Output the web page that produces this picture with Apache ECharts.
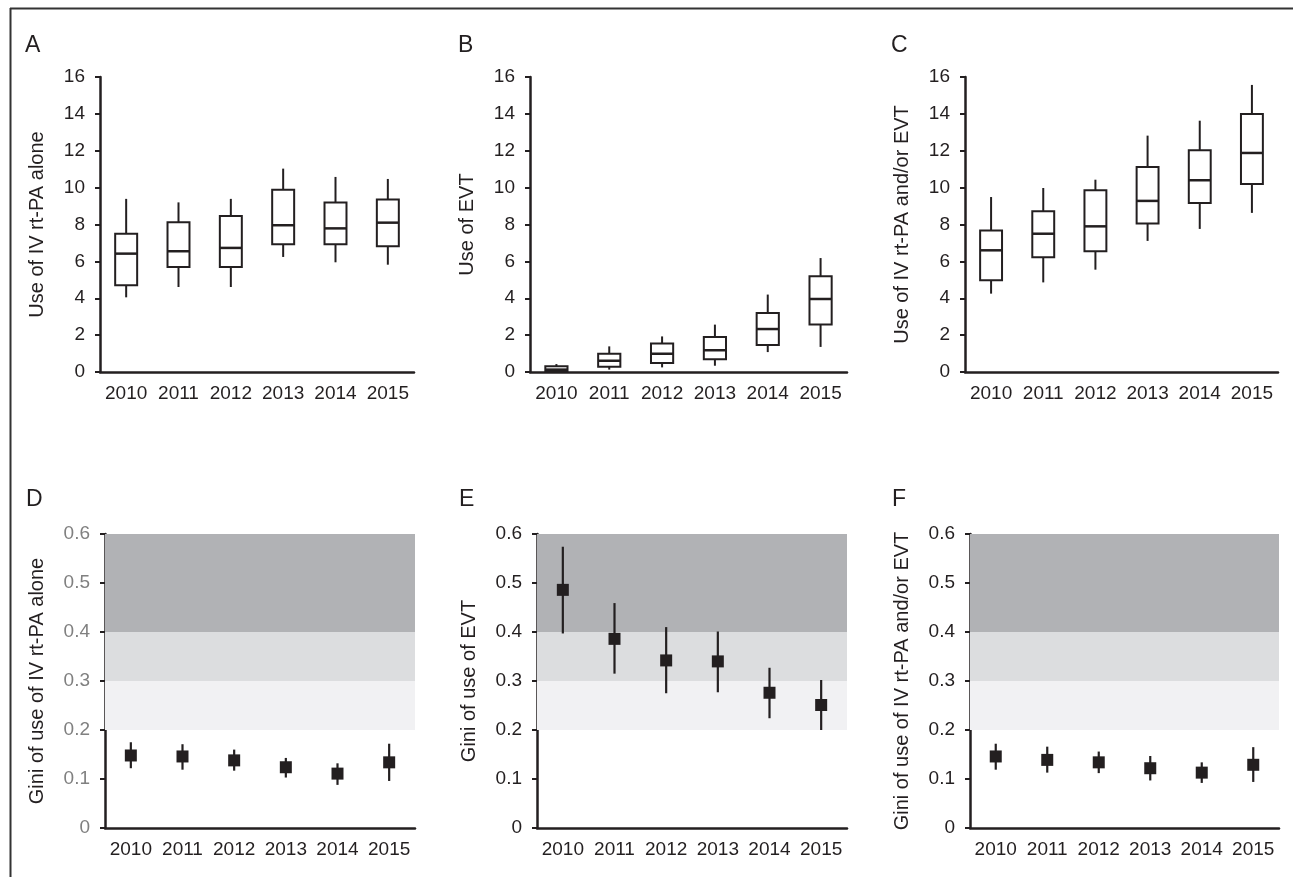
<!DOCTYPE html>
<html>
<head>
<meta charset="utf-8">
<script src="https://cdn.jsdelivr.net/npm/echarts@6/dist/echarts.min.js"></script>
<style>
html, body { margin: 0; padding: 0; background: #fff; }
#main { width: 1293px; height: 877px; }
</style>
</head>
<body>
<div id="main"></div>
<script>
var years = ["2010", "2011", "2012", "2013", "2014", "2015"];

// box plots per year: [low, q1, median, q3, high]
var useIvAlone = [
  [4.05, 4.70, 6.42, 7.50, 9.39],
  [4.61, 5.70, 6.55, 8.12, 9.20],
  [4.61, 5.70, 6.73, 8.46, 9.39],
  [6.24, 6.93, 7.96, 9.89, 11.03],
  [5.95, 6.93, 7.79, 9.19, 10.58],
  [5.82, 6.82, 8.10, 9.35, 10.47]
];
var useEvt = [
  [0.00, 0.05, 0.13, 0.31, 0.43],
  [0.13, 0.29, 0.61, 0.99, 1.39],
  [0.25, 0.49, 0.99, 1.54, 1.93],
  [0.34, 0.69, 1.18, 1.90, 2.57],
  [1.08, 1.46, 2.33, 3.20, 4.20],
  [1.36, 2.57, 3.96, 5.19, 6.18]
];
var useIvOrEvt = [
  [4.25, 4.97, 6.60, 7.67, 9.49],
  [4.86, 6.22, 7.50, 8.72, 9.98],
  [5.55, 6.55, 7.90, 9.86, 10.43],
  [7.11, 8.05, 9.28, 11.12, 12.82],
  [7.76, 9.17, 10.40, 12.03, 13.63],
  [8.63, 10.20, 11.88, 14.00, 15.57]
];

// Gini per year: [low, estimate, high]
var giniIvAlone = [
  [0.122, 0.148, 0.175],
  [0.119, 0.146, 0.171],
  [0.117, 0.138, 0.160],
  [0.103, 0.124, 0.143],
  [0.088, 0.111, 0.132],
  [0.096, 0.134, 0.172]
];
var giniEvt = [
  [0.397, 0.486, 0.574],
  [0.315, 0.386, 0.459],
  [0.275, 0.342, 0.410],
  [0.277, 0.340, 0.401],
  [0.224, 0.276, 0.327],
  [0.200, 0.251, 0.302]
];
var giniIvOrEvt = [
  [0.119, 0.146, 0.172],
  [0.113, 0.139, 0.166],
  [0.112, 0.134, 0.156],
  [0.097, 0.122, 0.147],
  [0.092, 0.113, 0.134],
  [0.094, 0.129, 0.165]
];

// inequality bands on the Gini axis: [from, to]
var giniBands = [[0.2, 0.3], [0.3, 0.4], [0.4, 0.6]];
var bandColors = ["#f1f1f3", "#dcdddf", "#b1b2b5"];

var FONT = "Liberation Sans, Arial, Helvetica, sans-serif";
var INK = "#231f20";

var grids = [
  { left: 100, top: 77, width: 314, height: 295 },
  { left: 530, top: 77, width: 317, height: 295 },
  { left: 965, top: 77, width: 313, height: 295 },
  { left: 105, top: 534, width: 310, height: 294 },
  { left: 537, top: 534, width: 310, height: 294 },
  { left: 970, top: 534, width: 309, height: 294 }
];
var yNames = [
  "Use of IV rt-PA alone",
  "Use of EVT",
  "Use of IV rt-PA and/or EVT",
  "Gini of use of IV rt-PA alone",
  "Gini of use of EVT",
  "Gini of use of IV rt-PA and/or EVT"
];
var letters = [
  { t: "A", x: 25, y: 34 },
  { t: "B", x: 458, y: 34 },
  { t: "C", x: 891, y: 34 },
  { t: "D", x: 26, y: 488 },
  { t: "E", x: 459, y: 488 },
  { t: "F", x: 892, y: 488 }
];

function giniLabel(v) { return v === 0 ? "0" : v.toFixed(1); }
function useLabel(v) { return String(v); }

var xAxes = [], yAxes = [], series = [];
for (let i = 0; i < 6; i++) {
  let gini = i >= 3;
  xAxes.push({
    gridIndex: i,
    type: "category",
    data: years,
    axisLine: { lineStyle: { color: INK, width: 2.5 } },
    axisTick: { show: false },
    axisLabel: { interval: 0, fontSize: 19, color: INK, margin: 12, fontFamily: FONT }
  });
  yAxes.push({
    gridIndex: i,
    type: "value",
    min: 0,
    max: gini ? 0.6 : 16,
    interval: gini ? 0.1 : 2,
    name: yNames[i],
    nameLocation: "middle",
    nameGap: gini ? 58 : 53,
    nameTextStyle: { fontSize: 20, color: INK, fontFamily: FONT },
    axisLine: { show: true, lineStyle: { color: INK, width: 2.5 } },
    axisTick: { show: true, length: 5, lineStyle: { color: INK, width: 2 } },
    axisLabel: {
      fontSize: 19,
      margin: 15,
      fontFamily: FONT,
      color: i === 3 ? "#808080" : INK,
      formatter: gini ? giniLabel : useLabel
    },
    splitLine: { show: false }
  });
}

function boxData(arr) {
  var out = [];
  for (let i = 0; i < arr.length; i++) out.push([i].concat(arr[i]));
  return out;
}

function renderBox(params, api) {
  var x = api.value(0);
  var pLow = api.coord([x, api.value(1)]);
  var pQ1 = api.coord([x, api.value(2)]);
  var pMed = api.coord([x, api.value(3)]);
  var pQ3 = api.coord([x, api.value(4)]);
  var pHigh = api.coord([x, api.value(5)]);
  var w = api.size([1, 0])[0] * 0.42;
  var cx = pMed[0];
  return {
    type: "group",
    children: [
      { type: "line", shape: { x1: cx, y1: pLow[1], x2: cx, y2: pHigh[1] }, style: { stroke: INK, lineWidth: 2 } },
      { type: "rect", shape: { x: cx - w / 2, y: pQ3[1], width: w, height: pQ1[1] - pQ3[1] }, style: { fill: "#fff", stroke: INK, lineWidth: 2 } },
      { type: "line", shape: { x1: cx - w / 2, y1: pMed[1], x2: cx + w / 2, y2: pMed[1] }, style: { stroke: INK, lineWidth: 2.5 } }
    ]
  };
}

function renderGini(params, api) {
  var x = api.value(0);
  var pLow = api.coord([x, api.value(1)]);
  var pMid = api.coord([x, api.value(2)]);
  var pHigh = api.coord([x, api.value(3)]);
  var s = 12;
  return {
    type: "group",
    children: [
      { type: "line", shape: { x1: pMid[0], y1: pLow[1], x2: pMid[0], y2: pHigh[1] }, style: { stroke: INK, lineWidth: 2.2 } },
      { type: "rect", shape: { x: pMid[0] - s / 2, y: pMid[1] - s / 2, width: s, height: s }, style: { fill: INK } }
    ]
  };
}

function renderBand(params, api) {
  var cs = params.coordSys;
  var yTop = api.coord([0, api.value(2)])[1];
  var yBot = api.coord([0, api.value(1)])[1];
  return {
    type: "rect",
    shape: { x: cs.x, y: yTop, width: cs.width, height: yBot - yTop },
    style: { fill: bandColors[params.dataIndex] }
  };
}

var boxSets = [useIvAlone, useEvt, useIvOrEvt];
var giniSets = [giniIvAlone, giniEvt, giniIvOrEvt];
for (let i = 0; i < 3; i++) {
  series.push({
    type: "custom",
    xAxisIndex: i,
    yAxisIndex: i,
    renderItem: renderBox,
    encode: { x: 0, y: [1, 2, 3, 4, 5] },
    data: boxData(boxSets[i]),
    clip: false,
    z: 5
  });
}
for (let i = 0; i < 3; i++) {
  var bands = [];
  for (let b = 0; b < giniBands.length; b++) bands.push([0, giniBands[b][0], giniBands[b][1]]);
  series.push({
    type: "custom",
    xAxisIndex: i + 3,
    yAxisIndex: i + 3,
    renderItem: renderBand,
    encode: { x: 0, y: [1, 2] },
    data: bands,
    silent: true,
    z: 1
  });
  series.push({
    type: "custom",
    xAxisIndex: i + 3,
    yAxisIndex: i + 3,
    renderItem: renderGini,
    encode: { x: 0, y: [1, 2, 3] },
    data: boxData(giniSets[i]),
    clip: false,
    z: 5
  });
}

var graphics = [
  { type: "line", shape: { x1: 10, y1: 8.5, x2: 1293, y2: 8.5 }, style: { stroke: "#333", lineWidth: 2 } },
  { type: "line", shape: { x1: 10.5, y1: 8, x2: 10.5, y2: 877 }, style: { stroke: "#333", lineWidth: 2 } }
];
for (let i = 0; i < letters.length; i++) {
  graphics.push({
    type: "text",
    left: letters[i].x,
    top: letters[i].y,
    style: { text: letters[i].t, fontSize: 23, fill: INK, fontFamily: FONT }
  });
}

var myChart = echarts.init(document.getElementById("main"));
var option = {
  backgroundColor: "#fff",
  animation: false,
  textStyle: { fontFamily: FONT },
  grid: grids,
  xAxis: xAxes,
  yAxis: yAxes,
  series: series,
  graphic: graphics
};
myChart.setOption(option);
</script>
</body>
</html>
